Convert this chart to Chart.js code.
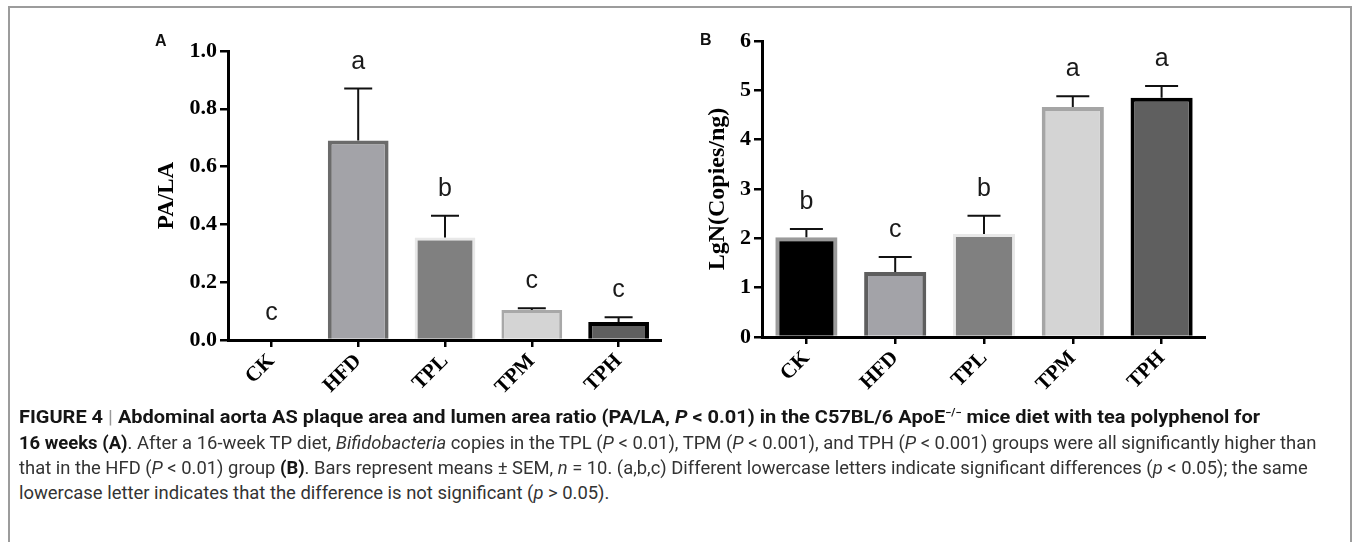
<!DOCTYPE html>
<html>
<head>
<meta charset="utf-8">
<script src="https://cdn.jsdelivr.net/npm/chart.js@4.4.0/dist/chart.umd.min.js"></script>
<style>
body{margin:0;background:#fff;width:1358px;height:542px;overflow:hidden;position:relative;font-family:"Liberation Sans",Arial,sans-serif}
#frame{position:absolute;left:8px;top:6px;width:1340px;height:600px;border:2px solid #9c9c9c;border-bottom:none}
canvas{position:absolute;top:0}
#chartA{left:100px}
#chartB{left:640px}
.panel{position:absolute;font:bold 16px "Liberation Sans",Arial,sans-serif;color:#111}
.cap{position:absolute;left:19px;white-space:nowrap;font-family:Roboto,"Liberation Sans",sans-serif;font-size:18px;line-height:20px;color:#333;transform-origin:0 0}
.cap b{color:#151515}
.cap .sep{color:#999;font-weight:normal}
.cap sup{font-size:10px;line-height:0}
</style>
</head>
<body>
<div id="frame"></div>
<canvas id="chartA" width="562" height="410"></canvas>
<canvas id="chartB" width="566" height="410"></canvas>
<div class="panel" style="left:155px;top:32px">A</div>
<div class="panel" style="left:700px;top:31px">B</div>

<div class="cap" style="top:407px"><b>FIGURE 4</b> <span class="sep">|</span> <b>Abdominal aorta AS plaque area and lumen area ratio (PA/LA, <i>P</i> &lt; 0.01) in the C57BL/6 ApoE<sup>−/−</sup> mice diet with tea polyphenol for</b></div>
<div class="cap" style="top:433px"><b>16 weeks (A)</b>. After a 16-week TP diet, <i>Bifidobacteria</i> copies in the TPL (<i>P</i> &lt; 0.01), TPM (<i>P</i> &lt; 0.001), and TPH (<i>P</i> &lt; 0.001) groups were all significantly higher than</div>
<div class="cap" style="top:458px">that in the HFD (<i>P</i> &lt; 0.01) group <b>(B)</b>. Bars represent means ± SEM, <i>n</i> = 10. (a,b,c) Different lowercase letters indicate significant differences (<i>p</i> &lt; 0.05); the same</div>
<div class="cap" style="top:483px">lowercase letter indicates that the difference is not significant (<i>p</i> &gt; 0.05).</div>

<script>
// Dados
const groups = ['CK', 'HFD', 'TPL', 'TPM', 'TPH'];

// Painel A: PA/LA
const ratioMeans = [0, 0.69, 0.355, 0.104, 0.062];
const ratioErrs = [0, 0.18, 0.075, 0.006, 0.017];
const ratioLetters = ['c', 'a', 'b', 'c', 'c'];

// Painel B: LgN(Copies/ng)
const copyMeans = [2.02, 1.32, 2.09, 4.66, 4.85];
const copyErrs = [0.17, 0.30, 0.37, 0.22, 0.24];
const copyLetters = ['b', 'c', 'b', 'a', 'a'];

const serifBold = {family: '"Liberation Serif", "Times New Roman", serif', weight: 'bold'};

// Barras de erro e letras de significância
const errorBars = {
  id: 'errorBars',
  afterDatasetsDraw(chart, args, opts) {
    const ctx = chart.ctx;
    const y = chart.scales.y;
    const bars = chart.getDatasetMeta(0).data;
    ctx.save();
    bars.forEach((bar, i) => {
      const base = y.getPixelForValue(opts.means[i]);
      const top = y.getPixelForValue(opts.means[i] + opts.errs[i]);
      if (opts.errs[i] > 0) {
        ctx.strokeStyle = '#111';
        ctx.lineWidth = 2;
        ctx.beginPath();
        ctx.moveTo(bar.x, base);
        ctx.lineTo(bar.x, top);
        ctx.moveTo(bar.x - opts.cap / 2, top);
        ctx.lineTo(bar.x + opts.cap / 2, top);
        ctx.stroke();
      }
      ctx.fillStyle = '#1a1a1a';
      ctx.font = '25px "Liberation Sans", Arial, sans-serif';
      ctx.textAlign = 'center';
      ctx.textBaseline = 'alphabetic';
      ctx.fillText(opts.letters[i], bar.x, top - 20);
    });
    ctx.restore();
  }
};

function makeChart(id, cfg) {
  return new Chart(document.getElementById(id), {
    type: 'bar',
    data: {
      labels: groups,
      datasets: [{
        data: cfg.means,
        backgroundColor: cfg.fill,
        borderColor: cfg.border,
        borderWidth: cfg.borderWidth,
        borderSkipped: 'bottom',
        categoryPercentage: 1,
        barPercentage: 0.7
      }]
    },
    options: {
      responsive: false,
      animation: false,
      layout: {padding: {top: cfg.top, left: 0, right: 0, bottom: 0}},
      plugins: {
        legend: {display: false},
        tooltip: {enabled: false},
        errorBars: {means: cfg.means, errs: cfg.errs, letters: cfg.letters, cap: cfg.cap}
      },
      scales: {
        x: {
          z: 1,
          grid: {offset: false, drawOnChartArea: false, drawTicks: true, tickLength: 7, lineWidth: 2.5, color: '#000'},
          border: {display: true, color: '#000', width: 3},
          ticks: {color: '#000', font: {...serifBold, size: 21}, minRotation: 45, maxRotation: 45, autoSkip: false, padding: 2},
          afterFit: s => { s.height = cfg.xHeight; }
        },
        y: {
          z: 1,
          min: 0,
          max: cfg.max,
          grid: {drawOnChartArea: false, drawTicks: true, tickLength: 8, lineWidth: 2.5, color: '#000'},
          border: {display: true, color: '#000', width: 3},
          ticks: {color: '#000', stepSize: cfg.step, font: {...serifBold, size: 22}, padding: 3,
                  callback: v => cfg.fmt(v)},
          title: {display: true, text: cfg.title, color: '#000', font: {...serifBold, size: cfg.titleSize},
                  padding: {top: cfg.titlePad, bottom: 0}},
          afterFit: s => { s.width = cfg.yWidth; }
        }
      }
    },
    plugins: [errorBars]
  });
}

makeChart('chartA', {
  means: ratioMeans, errs: ratioErrs, letters: ratioLetters,
  fill: ['#ffffff', '#a3a3a8', '#808080', '#d4d4d4', '#5f5f5f'],
  border: ['#000000', '#6b6b6b', '#e8e8e8', '#a8a8a8', '#000000'],
  borderWidth: [3, 4, 3, 3, 4],
  max: 1.0, step: 0.2, fmt: v => v.toFixed(1),
  title: 'PA/LA', titleSize: 23, titlePad: 53,
  top: 51, xHeight: 70, yWidth: 128, cap: 28
});

makeChart('chartB', {
  means: copyMeans, errs: copyErrs, letters: copyLetters,
  fill: ['#000000', '#a3a3a8', '#808080', '#d4d4d4', '#5f5f5f'],
  border: ['#9a9a9a', '#5e5e5e', '#e8e8e8', '#a5a5a5', '#000000'],
  borderWidth: [4, 4, 3, 4, 4],
  max: 6, step: 1, fmt: v => String(v),
  title: 'LgN(Copies/ng)', titleSize: 24, titlePad: 63,
  top: 41, xHeight: 73, yWidth: 122, cap: 33
});

// Ajustar largura das linhas da legenda
document.fonts.ready.then(() => {
  const lines = document.querySelectorAll('.cap');
  const targets = [1241, 1297, 1289];
  const k = [];
  lines.forEach((el, i) => {
    if (i < 3) {
      k.push(targets[i] / el.offsetWidth);
      el.style.transform = 'scaleX(' + k[i] + ')';
    }
  });
  lines[3].style.transform = 'scaleX(' + ((k[1] + k[2]) / 2) + ')';
});
</script>
</body>
</html>
